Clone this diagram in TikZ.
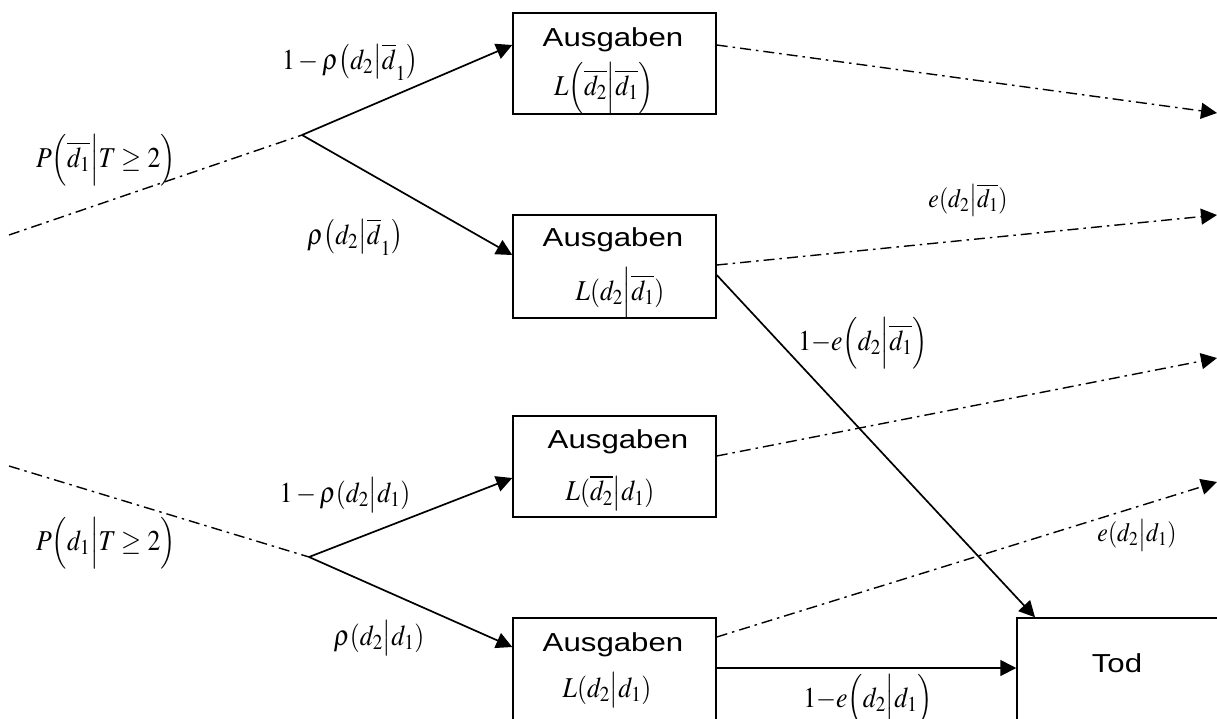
\documentclass[tikz,border=0pt]{standalone}
\usepackage{mathptmx}
\usepackage[no-math]{fontspec}
\setsansfont{Liberation Sans}
\usepackage{graphicx}
\usetikzlibrary{arrows.meta}
\newcommand{\mth}[1]{\scalebox{1.03}[1.15]{$\displaystyle #1$}}
\newcommand{\wide}[1]{\scalebox{1.2}[1]{#1}}
\newcommand{\lowone}{\raisebox{-6pt}{$\scriptstyle 1$}}
\begin{document}
\begin{tikzpicture}[x=1pt,y=-1pt,
  box/.style={draw, line width=1.5pt, inner sep=0pt, minimum width=203pt},
  solidarrow/.style={line width=1.7pt, -{Triangle[length=16pt,width=16pt]}},
  dd/.style={line width=1.4pt, dash pattern=on 11pt off 5pt on 2.5pt off 5pt},
  ddarrow/.style={dd, -{Triangle[length=16pt,width=16pt]}},
  lbl/.style={font=\fontsize{25}{29}\selectfont, inner sep=0pt},
  slbl/.style={font=\fontsize{23}{27}\selectfont, inner sep=0pt},
  txt/.style={font=\sffamily\fontsize{26}{30}\selectfont, inner sep=0pt}]
\useasboundingbox (0,0) rectangle (1217,718);
\clip (0,0) rectangle (1217,718);

% boxes
\node[box, minimum height=101pt] (b1) at (614.5,63.5) {};
\node[box, minimum height=103pt] (b2) at (614.5,266.5) {};
\node[box, minimum height=101pt] (b3) at (614.5,466.5) {};
\node[box, minimum height=102pt] (b4) at (614.5,669) {};
\node[box, minimum width=202pt, minimum height=102pt] (tod) at (1118,669) {};

% box texts
\node[txt] (t1a) at (613,40) {\wide{Ausgaben}};
\node[lbl] (t1b) at (604,88) {\mth{L\Bigl(\overline{d_2}\Big|\overline{d_1}\Bigr)}};
\node[txt] (t2a) at (613,240) {\wide{Ausgaben}};
\node[lbl] (t2b) at (620,293) {\mth{L(d_2\Big|\overline{d_1})}};
\node[txt] (t3a) at (618,442) {\wide{Ausgaben}};
\node[lbl] (t3b) at (610,493) {\mth{L(\overline{d_2}\big|d_1)}};
\node[txt] (t4a) at (613,645) {\wide{Ausgaben}};
\node[lbl] (t4b) at (607,690) {\mth{L(d_2\big|d_1)}};
\node[txt] (t5) at (1117,663) {\wide{Tod}};

% branch and end coordinates
\coordinate (s1) at (9,235);
\coordinate (p1) at (302,135);
\coordinate (s2) at (9,466);
\coordinate (p2) at (309,557);
\coordinate (e1) at (1217,113);
\coordinate (e2) at (1217,215);
\coordinate (e3) at (1217,358);
\coordinate (e4) at (1217,482);

% upper tree
\draw[dd] (s1) -- (p1);
\draw[solidarrow] (p1) -- (b1.west |- 0,45);
\draw[solidarrow] (p1) -- (b2.west |- 0,255);
% lower tree
\draw[dd] (s2) -- (p2);
\draw[solidarrow] (p2) -- (b3.west |- 0,478);
\draw[solidarrow] (p2) -- (b4.west |- 0,647);

% outgoing
\draw[ddarrow] (b1.east |- 0,45) -- (e1);
\draw[ddarrow] (b2.east |- 0,265) -- (e2);
\draw[solidarrow] (b2.east |- 0,275) -- (tod.north west -| 1035,0);
\draw[ddarrow] (b3.east |- 0,456) -- (e3);
\draw[ddarrow] (b4.east |- 0,637) -- (e4);
\draw[solidarrow] (b4.east |- 0,668) -- (tod.west |- 0,668);

% labels
\node[lbl] (l1) at (350,62) {\mth{1-\rho\!\left(d_2\middle|\overline{d}_{\lowone}\right)}};
\node[lbl] (l2) at (106,160) {\mth{P\Bigl(\overline{d_1}\Big|T\geq 2\Bigr)}};
\node[lbl] (l3) at (355,237) {\mth{\rho\!\left(d_2\middle|\overline{d}_{\lowone}\right)}};
\node[lbl] (l4) at (345,495) {\mth{1-\rho(d_2\big|d_1)}};
\node[lbl] (l5) at (106,543) {\mth{P\Bigl(d_1\Big|T\geq 2\Bigr)}};
\node[lbl] (l6) at (379,638) {\mth{\rho(d_2\big|d_1)}};
\node[slbl] (l7) at (968,200) {\mth{e(d_2\big|\overline{d_1})}};
\node[lbl] (l8) at (863,343) {\mth{1{-}e\Bigl(d_2\Big|\overline{d_1}\Bigr)}};
\node[slbl] (l9) at (1137,535) {\mth{e(d_2\big|d_1)}};
\node[lbl] (l10) at (868,700) {\mth{1{-}e\Bigl(d_2\Big|d_1\Bigr)}};
\end{tikzpicture}
\end{document}
